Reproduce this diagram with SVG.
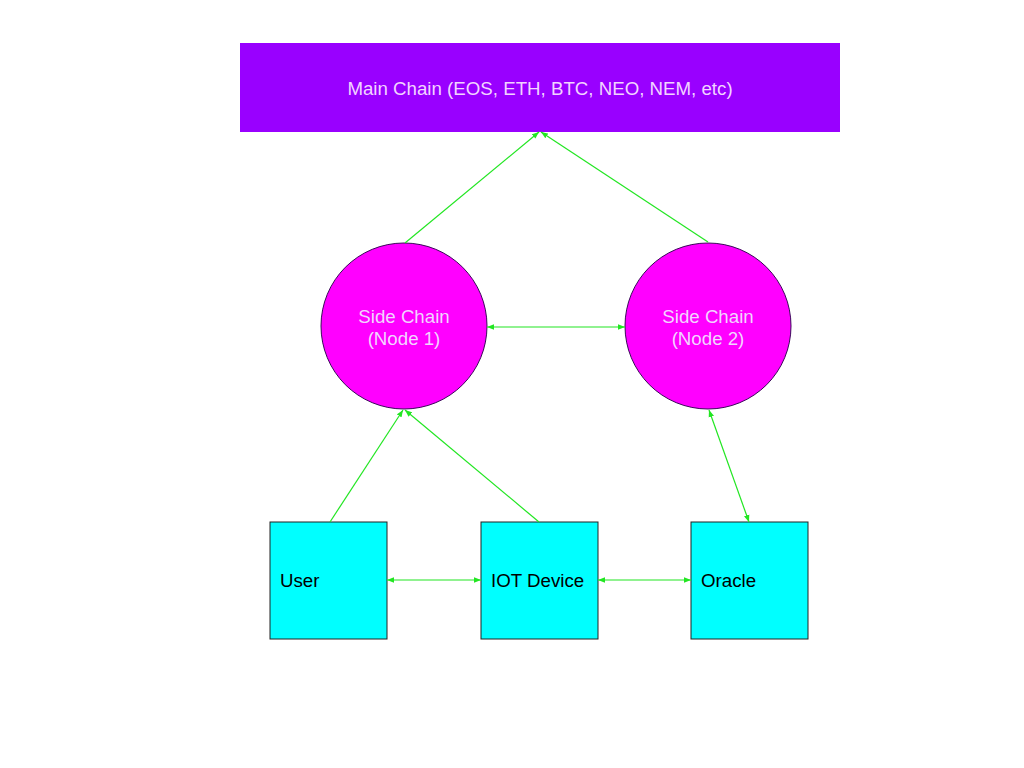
<svg xmlns="http://www.w3.org/2000/svg" width="1024" height="768" viewBox="0 0 1024 768">
<style>
.lbl{font-family:"Liberation Sans",Arial,sans-serif;font-size:18.7px}
.lt{fill:#f2d4ff}
.dk{fill:#000}
.circ{fill:#ff00ff;stroke:#3a0a5a;stroke-width:1}
.box{fill:#00ffff;stroke:#222;stroke-width:1}
.con{stroke:#22e622;stroke-width:1.2;fill:none}
</style>
<defs>
<marker id="ah" viewBox="0 0 10 10" refX="10" refY="5" markerWidth="7" markerHeight="7" orient="auto-start-reverse" markerUnits="userSpaceOnUse">
<path d="M0,1 L10,5 L0,9 Z" fill="#22e622"/>
</marker>
</defs>
<rect width="1024" height="768" fill="#fff"/>
<g id="main">
<rect x="240" y="43" width="600" height="89" fill="#9900ff"/>
<text class="lbl lt" x="540" y="95" text-anchor="middle">Main Chain (EOS, ETH, BTC, NEO, NEM, etc)</text>
</g>
<g id="node1">
<circle class="circ" cx="404" cy="326" r="83"/>
<text class="lbl lt" x="404" y="323" text-anchor="middle">Side Chain</text>
<text class="lbl lt" x="404" y="345" text-anchor="middle">(Node 1)</text>
</g>
<g id="node2">
<circle class="circ" cx="708" cy="326" r="83"/>
<text class="lbl lt" x="708" y="323" text-anchor="middle">Side Chain</text>
<text class="lbl lt" x="708" y="345" text-anchor="middle">(Node 2)</text>
</g>
<g id="user">
<rect class="box" x="270" y="522" width="117" height="117"/>
<text class="lbl dk" x="280" y="587">User</text>
</g>
<g id="iot">
<rect class="box" x="481" y="522" width="117" height="117"/>
<text class="lbl dk" x="491" y="587">IOT Device</text>
</g>
<g id="oracle">
<rect class="box" x="691" y="522" width="117" height="117"/>
<text class="lbl dk" x="701" y="587">Oracle</text>
</g>
<g id="connectors">
<line class="con" x1="405" y1="243" x2="539" y2="132" marker-end="url(#ah)"/>
<line class="con" x1="708" y1="242" x2="541" y2="132" marker-end="url(#ah)"/>
<line class="con" x1="487" y1="327" x2="625" y2="327" marker-start="url(#ah)" marker-end="url(#ah)"/>
<line class="con" x1="330" y1="522" x2="403" y2="410" marker-end="url(#ah)"/>
<line class="con" x1="539" y1="522" x2="405" y2="410" marker-end="url(#ah)"/>
<line class="con" x1="709" y1="410" x2="749" y2="522" marker-start="url(#ah)" marker-end="url(#ah)"/>
<line class="con" x1="387" y1="580" x2="481" y2="580" marker-start="url(#ah)" marker-end="url(#ah)"/>
<line class="con" x1="598" y1="580" x2="691" y2="580" marker-start="url(#ah)" marker-end="url(#ah)"/>
</g>
</svg>
